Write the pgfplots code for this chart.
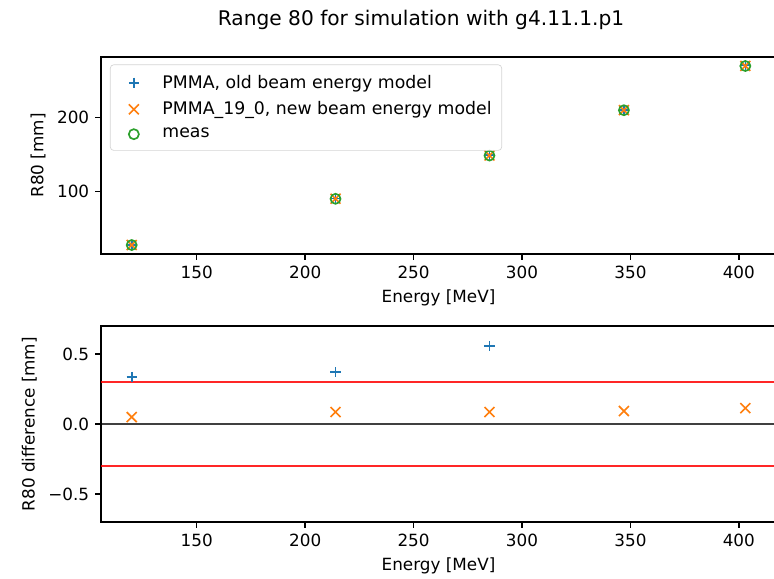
\documentclass[border=0pt]{standalone}
\usepackage{fontspec}
\setmainfont{DejaVu Sans}
\usepackage{pgfplots}
\pgfplotsset{compat=1.18}
\definecolor{c0}{HTML}{1F77B4}
\definecolor{c1}{HTML}{FF7F0E}
\definecolor{c2}{HTML}{2CA02C}
\pgfplotsset{mpl/.style={
  scale only axis, width=401.6pt,
  xmin=105.85, xmax=417.15,
  axis line style={line width=0.8pt},
  tick align=outside, major tick length=3.5pt,
  tick style={line width=0.8pt, black},
  xtick pos=lower, ytick pos=left,
  xtick={150,200,250,300,350,400},
  /pgf/number format/assume math mode=true,
  tick label style={font=\fontsize{10}{12}\selectfont},
  label style={font=\fontsize{10}{12}\selectfont},
  xlabel={Energy [MeV]},
  clip=true,
}}
\begin{document}
\begin{tikzpicture}
\useasboundingbox (0,0) rectangle (460.5pt,343.9pt);
\node[font=\fontsize{12}{14}\selectfont] at (250.5pt,332pt) {Range 80 for simulation with g4.11.1.p1};
\begin{axis}[mpl, at={(60.1pt,192.8pt)}, anchor=south west,
  height=117.2pt, ymin=16.4, ymax=281,
  ytick={100,200}, ylabel={R80 [mm]},
  legend cell align=left,
  legend style={at={(0.0133,0.962)}, anchor=north west,
    font=\fontsize{10.3}{12}\selectfont,
    draw=black!17, fill=white, fill opacity=0.8, text opacity=1, draw opacity=1,
    rounded corners=2pt, row sep=2.5pt, inner xsep=4pt, inner ysep=4pt},
  legend image code/.code={\path[draw=none,fill=none] (0pt,-3pt) -- (25pt,3pt);
    \draw[mark repeat=2,mark phase=2] plot coordinates {(0pt,0pt)(10pt,0pt)(20pt,0pt)};},
]
\addplot[only marks, mark=+, color=c0, mark size=3pt, mark options={line width=1pt}]
  coordinates {(120,28.74)(214,90.87)(285,149.16)(347,210.22)(403,269.8)};
\addlegendentry{PMMA, old beam energy model}
\addplot[only marks, mark=x, color=c1, mark size=4.2pt, mark options={line width=1pt}]
  coordinates {(120,28.45)(214,90.59)(285,148.69)(347,209.59)(403,269.01)};
\addlegendentry{PMMA\_19\_0, new beam energy model}
\addplot[only marks, mark=o, color=c2, mark size=3pt, mark options={line width=1pt}]
  coordinates {(120,28.4)(214,90.5)(285,148.6)(347,209.5)(403,268.9)};
\addlegendentry{meas}
\end{axis}
\begin{axis}[mpl, at={(60.1pt,33.3pt)}, anchor=south west,
  height=116.6pt, ymin=-0.7, ymax=0.7,
  ytick={-0.5,0,0.5}, yticklabels={−0.5,0.0,0.5},
  ylabel={R80 difference [mm]},
]
\addplot[only marks, mark=+, color=c0, mark size=3pt, mark options={line width=1pt}]
  coordinates {(120,0.336)(214,0.371)(285,0.557)(347,0.715)(403,0.9)};
\addplot[only marks, mark=x, color=c1, mark size=4.2pt, mark options={line width=1pt}]
  coordinates {(120,0.05)(214,0.086)(285,0.086)(347,0.093)(403,0.114)};
\addplot[red, opacity=0.85, line width=1.5pt] coordinates {(100,0.3)(430,0.3)};
\addplot[red, opacity=0.85, line width=1.5pt] coordinates {(100,-0.3)(430,-0.3)};
\addplot[black, opacity=0.75, line width=1.5pt] coordinates {(100,0)(430,0)};
\end{axis}
\end{tikzpicture}
\end{document}
